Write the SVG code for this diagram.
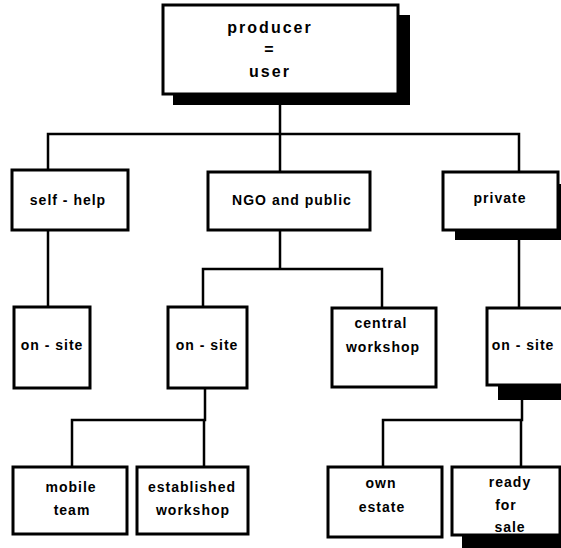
<svg xmlns="http://www.w3.org/2000/svg" width="561" height="548" viewBox="0 0 561 548">
  <style>
    .box { fill: #fff; stroke: #000; stroke-width: 3; }
    .shadow { fill: #000; }
    .wire { fill: none; stroke: #000; stroke-width: 2.5; stroke-linecap: square; }
    text { font-family: "Liberation Sans", Arial, sans-serif; font-weight: bold; font-size: 14px; letter-spacing: 1px; text-anchor: middle; fill: #000; }
    .big { font-size: 16px; letter-spacing: 2px; }
  </style>
  <rect width="561" height="548" fill="#fff"/>

  <g id="connectors">
    <path class="wire" d="M280,94 V134 M48,134 H519 M48,134 V170 M280,134 V172 M519,134 V172"/>
    <path class="wire" d="M48,230 V307"/>
    <path class="wire" d="M280,230 V269 M203,269 H382 M203,269 V307 M382,269 V308"/>
    <path class="wire" d="M519,240 V308"/>
    <path class="wire" d="M205,388 V420 M72,420 H205 M72,420 V467 M204,420 V467"/>
    <path class="wire" d="M522,400 V420 M383,420 H522 M383,420 V467 M521,420 V467"/>
  </g>

  <g id="producer-user">
    <rect class="shadow" x="173" y="15" width="237" height="90"/>
    <rect class="box" x="163" y="5" width="235" height="89"/>
    <text class="big" x="270" y="33">producer</text>
    <text class="big" x="270" y="55">=</text>
    <text class="big" x="270" y="77">user</text>
  </g>

  <g id="self-help">
    <rect class="box" x="12" y="170" width="116" height="60"/>
    <text x="68" y="205">self - help</text>
  </g>

  <g id="ngo-public">
    <rect class="box" x="208" y="172" width="162" height="58"/>
    <text x="292" y="205">NGO and public</text>
  </g>

  <g id="private">
    <rect class="shadow" x="455" y="184" width="110" height="56"/>
    <rect class="box" x="443" y="172" width="115" height="58"/>
    <text x="500" y="203">private</text>
  </g>

  <g id="on-site-self">
    <rect class="box" x="14" y="307" width="76" height="81"/>
    <text x="52" y="350">on - site</text>
  </g>

  <g id="on-site-ngo">
    <rect class="box" x="168" y="307" width="79" height="81"/>
    <text x="207" y="350">on - site</text>
  </g>

  <g id="central-workshop">
    <rect class="box" x="332" y="308" width="104" height="79"/>
    <text x="381" y="328">central</text>
    <text x="383" y="352">workshop</text>
  </g>

  <g id="on-site-private">
    <rect class="shadow" x="498" y="320" width="70" height="80"/>
    <rect class="box" x="487" y="308" width="80" height="77"/>
    <text x="523" y="350">on - site</text>
  </g>

  <g id="mobile-team">
    <rect class="box" x="13" y="467" width="114" height="67"/>
    <text x="71" y="492">mobile</text>
    <text x="72" y="515">team</text>
  </g>

  <g id="established-workshop">
    <rect class="box" x="137" y="467" width="111" height="67"/>
    <text x="192" y="492">established</text>
    <text x="193" y="515">workshop</text>
  </g>

  <g id="own-estate">
    <rect class="box" x="328" y="467" width="114" height="70"/>
    <text x="381" y="488">own</text>
    <text x="382" y="512">estate</text>
  </g>

  <g id="ready-for-sale">
    <rect class="shadow" x="462" y="480" width="110" height="70"/>
    <rect class="box" x="452" y="467" width="108" height="68"/>
    <text x="510" y="487">ready</text>
    <text x="506" y="510">for</text>
    <text x="510" y="532">sale</text>
  </g>
</svg>
